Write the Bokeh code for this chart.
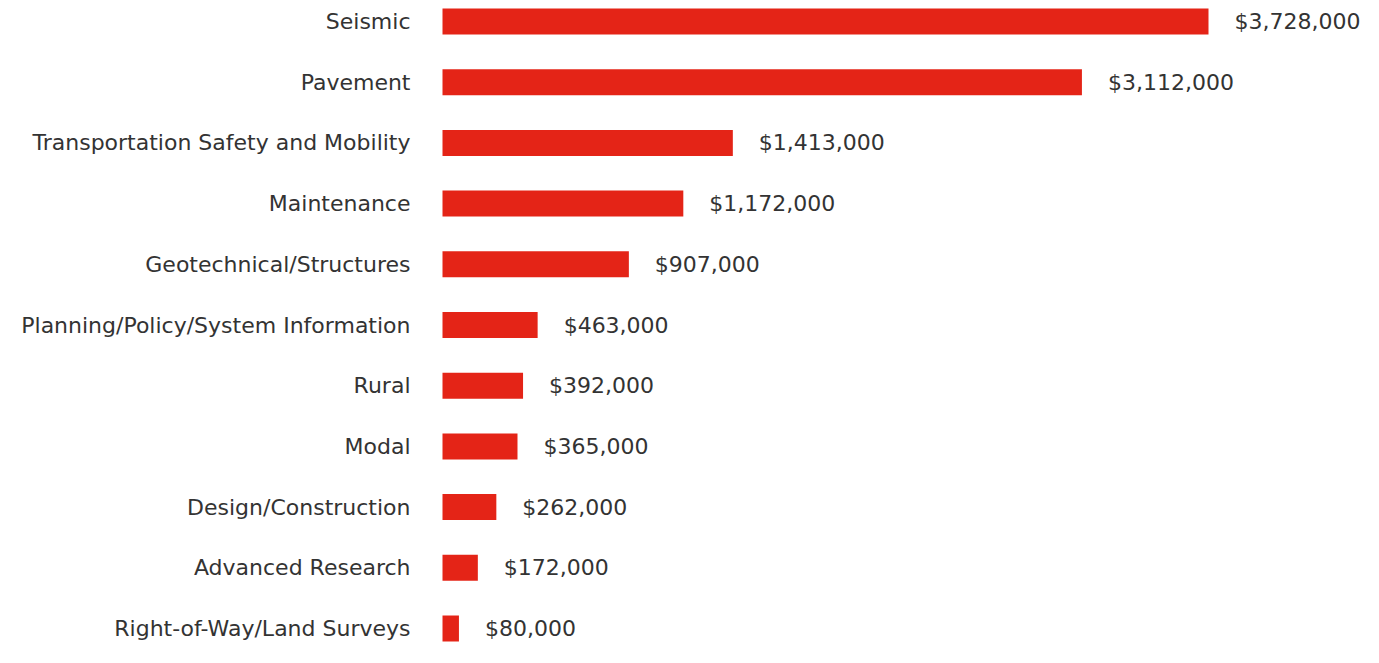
from bokeh.plotting import figure
from bokeh.models import Range1d, ColumnDataSource
from bokeh.core.properties import value
from bokeh.embed import file_html
from bokeh.resources import INLINE

categories = [
    "Seismic",
    "Pavement",
    "Transportation Safety and Mobility",
    "Maintenance",
    "Geotechnical/Structures",
    "Planning/Policy/System Information",
    "Rural",
    "Modal",
    "Design/Construction",
    "Advanced Research",
    "Right-of-Way/Land Surveys",
]
amounts = [3728000, 3112000, 1413000, 1172000, 907000, 463000, 392000, 365000, 262000, 172000, 80000]
value_labels = ["$" + format(a, ",") for a in amounts]

W, H = 1363, 647
px_per_dollar = 766 / 3728000.0
left_px = 442
x_start = -left_px / px_per_dollar
x_end = (W - left_px) / px_per_dollar

row_px = 60.7
top_px = 21
n = len(categories)
y_end = -top_px / row_px
y_start = (n - 1) + (H - (top_px + (n - 1) * row_px)) / row_px

src = ColumnDataSource(dict(
    y=list(range(n)),
    cat=categories,
    amt=amounts,
    lab=value_labels,
    zero=[0] * n,
))

p = figure(width=W, height=H, output_backend="svg", toolbar_location=None,
           x_range=Range1d(x_start, x_end), y_range=Range1d(y_start, y_end),
           min_border=0, outline_line_color=None)
p.axis.visible = False
p.grid.visible = False

p.hbar(y="y", left=0, right="amt", height=26 / row_px, source=src,
       fill_color="#E42417", line_color=None)

font = value("DejaVu Sans")
p.text(x="zero", y="y", text="cat", source=src, x_offset=-32,
       text_align="right", text_baseline="middle", text_font=font,
       text_font_size="22px", text_color="#333333")
p.text(x="amt", y="y", text="lab", source=src, x_offset=26,
       text_align="left", text_baseline="middle", text_font=font,
       text_font_size="22px", text_color="#333333")

open("out.html", "w").write(file_html(p, INLINE))
